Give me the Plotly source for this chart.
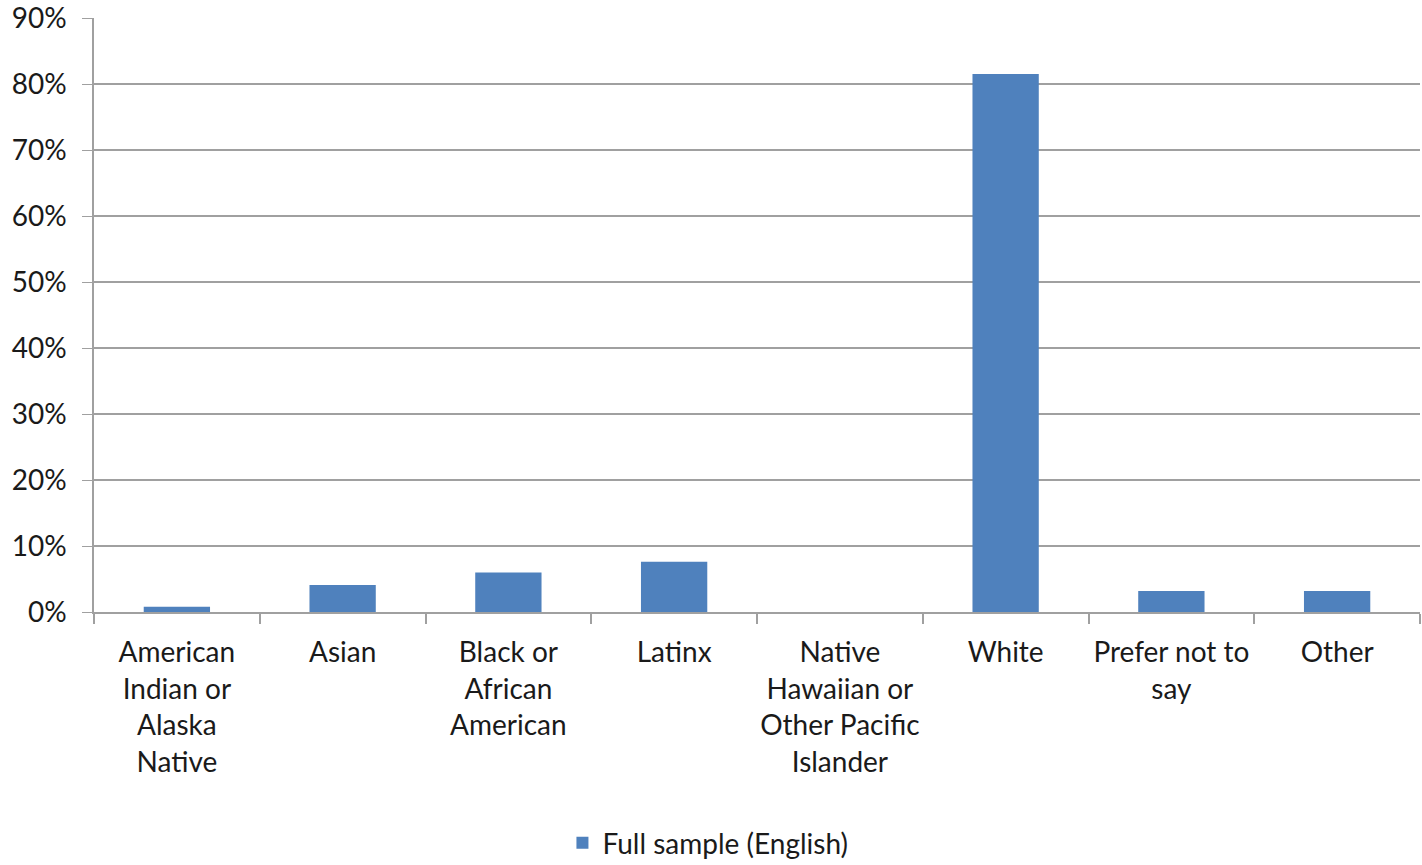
import plotly.graph_objects as go

categories = ["American<br>Indian or<br>Alaska<br>Native", "Asian", "Black or<br>African<br>American", "Latinx",
              "Native<br>Hawaiian or<br>Other Pacific<br>Islander", "White", "Prefer not to<br>say", "Other"]
values = [0.008, 0.041, 0.060, 0.076, 0.0, 0.815, 0.032, 0.032]
series_name = "Full sample (English)"
y_ticks = [0, 0.1, 0.2, 0.3, 0.4, 0.5, 0.6, 0.7, 0.8, 0.9]

FONT = "Lato"
fig = go.Figure()
fig.add_trace(go.Bar(x=categories, y=values, name=series_name, marker_color="#4F81BD",
                     marker_line_width=0, showlegend=True))
fig.update_layout(
    width=1422, height=865,
    margin=dict(l=94, r=2, t=18, b=253),
    paper_bgcolor="white", plot_bgcolor="white",
    font=dict(family=FONT, size=28, color="#1a1a1a"),
    bargap=0.6,
    showlegend=True,
    legend=dict(orientation="h", x=0.463, xanchor="center", yref="container",
                y=0.0254, yanchor="middle", font=dict(size=28), itemwidth=30),
)
fig.update_xaxes(showline=True, linecolor="#A0A0A0", linewidth=1.5, ticks="outside",
                 tickson="boundaries", ticklen=10, tickcolor="#A0A0A0", tickwidth=1.5,
                 ticklabelstandoff=15, tickangle=0, automargin=False)
fig.update_yaxes(range=[0, 0.9], tickvals=y_ticks, tickformat=".0%", showgrid=True,
                 gridcolor="#A0A0A0", gridwidth=1.5, showline=True, linecolor="#A0A0A0",
                 linewidth=1.5, ticks="outside", ticklen=10, tickcolor="#A0A0A0",
                 zeroline=False, ticklabelstandoff=10, automargin=False,
                 ticklabeloverflow="allow")
fig.write_html("out.html", config={"displayModeBar": False},
               post_script="document.body.style.margin='0';")
